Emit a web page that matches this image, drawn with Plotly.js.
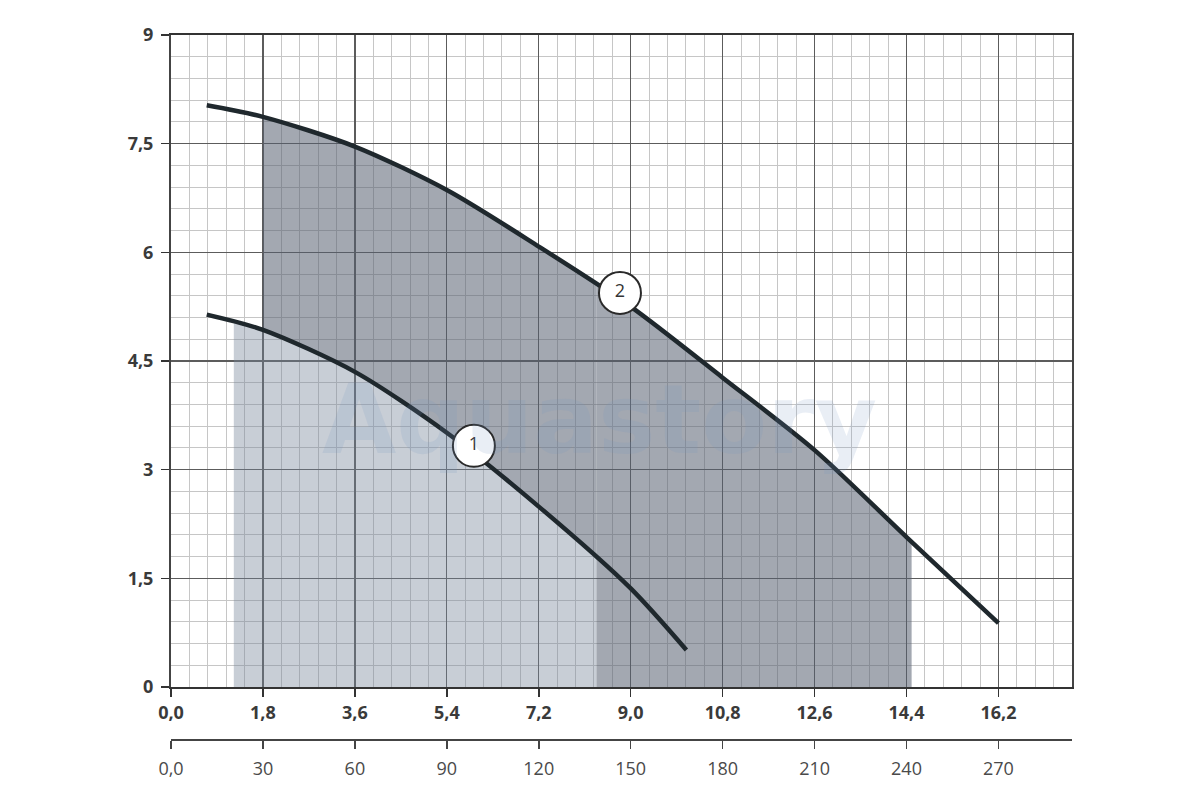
<!DOCTYPE html>
<html>
<head>
<meta charset="utf-8">
<script src="https://cdn.plot.ly/plotly-3.0.1.min.js"></script>
<style>html,body{margin:0;padding:0;background:#fff;}#chart{width:1200px;height:800px;}</style>
</head>
<body>
<div id="chart"></div>
<script>
// Flow (m3/h) values, main axis
const xTickVals = [0, 1.8, 3.6, 5.4, 7.2, 9.0, 10.8, 12.6, 14.4, 16.2];
const xTickText = ['0,0', '1,8', '3,6', '5,4', '7,2', '9,0', '10,8', '12,6', '14,4', '16,2'];
// Secondary flow axis (l/min)
const x2TickVals = [0, 30, 60, 90, 120, 150, 180, 210, 240, 270];
const x2TickText = ['0,0', '30', '60', '90', '120', '150', '180', '210', '240', '270'];
// Head axis
const yTickVals = [0, 1.5, 3, 4.5, 6, 7.5, 9];
const yTickText = ['0', '1,5', '3', '4,5', '6', '7,5', '9'];

// Curve 1
const curve1X = [0.7, 1.8, 3.6, 5.4, 7.2, 9.0, 10.09];
const curve1Y = [5.14, 4.93, 4.35, 3.51, 2.49, 1.36, 0.51];
// Curve 2
const curve2X = [0.7, 1.8, 3.6, 5.4, 7.2, 9.0, 10.8, 12.6, 14.4, 16.2];
const curve2Y = [8.03, 7.87, 7.46, 6.86, 6.08, 5.25, 4.27, 3.27, 2.07, 0.88];

// Shaded working zones: edges and the curve heights read at those edges
const zone1X = [1.23, 8.33];
const zone1Curve1Y = [5.05, 1.78];
const zone1Curve2Y = [null, 5.55];
const zone2X = [1.8, 14.5];
const zone2Curve1Y = [4.93, null];
const zone2Curve2Y = [7.87, 2.0];

// Curve label positions
const labelX = [5.93, 8.79];
const labelY = [3.33, 5.44];
const labelText = ['1', '2'];

// curve points strictly between a and b, framed by the edge readings
function seg(xs, ys, a, ya, b, yb) {
  const ox = [a], oy = [ya];
  xs.forEach((v, i) => { if (v > a + 1e-9 && v < b - 1e-9) { ox.push(v); oy.push(ys[i]); } });
  ox.push(b); oy.push(yb);
  return {x: ox, y: oy};
}

const darkFill = 'rgba(88,97,113,0.55)';
const lightFill = 'rgba(118,133,153,0.40)';
const lineColor = '#1f282d';

const lowA = seg(curve1X, curve1Y, zone2X[0], zone2Curve1Y[0], zone1X[1], zone1Curve1Y[1]);
const upA = seg(curve2X, curve2Y, zone2X[0], zone2Curve2Y[0], zone1X[1], zone1Curve2Y[1]);
const upB = seg(curve2X, curve2Y, zone1X[1], zone1Curve2Y[1], zone2X[1], zone2Curve2Y[1]);
const light = seg(curve1X, curve1Y, zone1X[0], zone1Curve1Y[0], zone1X[1], zone1Curve1Y[1]);

const noLine = {width: 0};
const traces = [
  {x: lowA.x, y: lowA.y, mode: 'lines', line: noLine, hoverinfo: 'skip'},
  {x: upA.x, y: upA.y, mode: 'lines', fill: 'tonexty', fillcolor: darkFill, line: noLine, hoverinfo: 'skip'},
  {x: upB.x, y: upB.y, mode: 'lines', fill: 'tozeroy', fillcolor: darkFill, line: noLine, hoverinfo: 'skip'},
  {x: light.x, y: light.y, mode: 'lines', fill: 'tozeroy', fillcolor: lightFill, line: noLine, hoverinfo: 'skip'},
  {x: curve1X, y: curve1Y, mode: 'lines', line: {color: lineColor, width: 4.5, shape: 'spline', smoothing: 0.8}},
  {x: curve2X, y: curve2Y, mode: 'lines', line: {color: lineColor, width: 4.5, shape: 'spline', smoothing: 0.8}},
  {x: labelX, y: labelY, text: labelText, mode: 'markers+text', textposition: 'middle center',
   marker: {size: 42, color: '#ffffff', line: {color: '#2a2a2a', width: 2}},
   textfont: {family: 'Open Sans', size: 18, color: '#333'}},
  // carrier for the secondary flow axis
  {x: x2TickVals, y: x2TickVals.map(() => null), xaxis: 'x2', yaxis: 'y', mode: 'markers', marker: {opacity: 0}, hoverinfo: 'skip'}
];
traces.forEach(t => t.showlegend = false);

const tickFontBold = {family: 'Open Sans', size: 18, color: '#3a3a3a', weight: 'bold'};

const layout = {
  width: 1200, height: 800,
  margin: {l: 171, r: 128, t: 35, b: 60},
  paper_bgcolor: '#ffffff', plot_bgcolor: '#ffffff',
  showlegend: false,
  xaxis: {
    range: [0, 17.64], tickmode: 'array', tickvals: xTickVals, ticktext: xTickText,
    showgrid: true, gridcolor: '#5c5c5c', gridwidth: 1.3,
    minor: {tickmode: 'linear', tick0: 0, dtick: 0.36, showgrid: true, gridcolor: '#c6c6c6', gridwidth: 1, ticks: ''},
    showline: true, linecolor: '#333', linewidth: 2.5, mirror: true,
    ticks: 'outside', ticklen: 8, tickcolor: '#333', tickwidth: 1.5,
    tickfont: tickFontBold,
    zeroline: false, anchor: 'y', fixedrange: true
  },
  xaxis2: {
    overlaying: 'x', anchor: 'free', position: 0, side: 'bottom',
    range: [0, 294], tickmode: 'array', tickvals: x2TickVals, ticktext: x2TickText,
    showgrid: false, zeroline: false,
    showline: true, linecolor: '#444', linewidth: 2,
    ticks: 'outside', ticklen: 8, tickcolor: '#444', tickwidth: 1.5,
    ticklabelstandoff: 4,
    tickfont: {family: 'Open Sans', size: 18, color: '#4a4a4a'}, fixedrange: true
  },
  yaxis: {
    domain: [0.0752, 1], range: [0, 9], tickmode: 'array', tickvals: yTickVals, ticktext: yTickText,
    showgrid: true, gridcolor: '#5c5c5c', gridwidth: 1.3,
    minor: {tickmode: 'linear', tick0: 0, dtick: 0.3, showgrid: true, gridcolor: '#c6c6c6', gridwidth: 1, ticks: ''},
    showline: true, linecolor: '#444', linewidth: 2, mirror: true,
    ticks: 'outside', ticklen: 8, tickcolor: '#333', tickwidth: 1.5,
    ticklabelstandoff: 4,
    tickfont: tickFontBold,
    zeroline: false, fixedrange: true
  },
  annotations: [{
    text: 'Aquastory', xref: 'paper', yref: 'paper', x: 0.476, y: 0.454,
    showarrow: false, font: {family: 'DejaVu Sans', size: 96, color: 'rgba(120,150,190,0.16)', weight: 'bold'}
  }]
};

Plotly.newPlot('chart', traces, layout, {displayModeBar: false, staticPlot: true});
</script>
</body>
</html>
